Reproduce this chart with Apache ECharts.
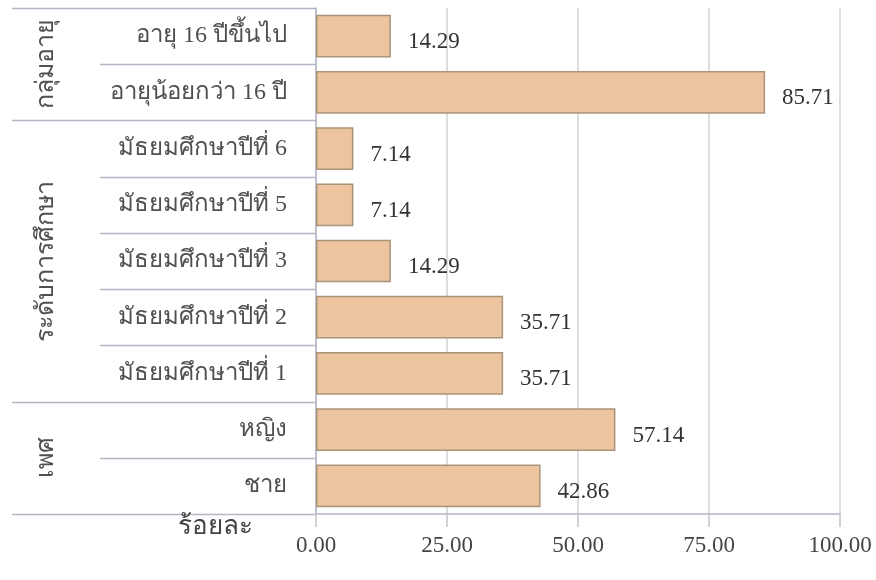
<!DOCTYPE html>
<html>
<head>
<meta charset="utf-8">
<script src="https://cdn.jsdelivr.net/npm/echarts@6/dist/echarts.min.js"></script>
<style>
  html, body { margin: 0; padding: 0; background: #fff; }
  #container { width: 876px; height: 580px; }
</style>
</head>
<body>
<div id="container"></div>
<script>
// rows, top to bottom
var categories = [
    'อายุ 16 ปีขึ้นไป',
    'อายุน้อยกว่า 16 ปี',
    'มัธยมศึกษาปีที่ 6',
    'มัธยมศึกษาปีที่ 5',
    'มัธยมศึกษาปีที่ 3',
    'มัธยมศึกษาปีที่ 2',
    'มัธยมศึกษาปีที่ 1',
    'หญิง',
    'ชาย'
];
var values = [14.29, 85.71, 7.14, 7.14, 14.29, 35.71, 35.71, 57.14, 42.86];
var groupNames = ['กลุ่มอายุ', 'ระดับการศึกษา', 'เพศ'];
var groupSizes = [2, 5, 2];
var unitName = 'ร้อยละ';

var FONT = '"Liberation Serif", "DejaVu Serif", serif';

var dom = document.getElementById('container');
var myChart = echarts.init(dom);

var option = {
    animation: false,
    backgroundColor: '#fff',
    grid: { left: 316, right: 36, top: 8, bottom: 66 },
    xAxis: {
        type: 'value',
        min: 0,
        max: 100,
        interval: 25,
        axisLine: { show: true, lineStyle: { color: '#b4b6c4', width: 1.5 } },
        axisTick: { show: true, length: 13, lineStyle: { color: '#c4c4c8', width: 1.5 } },
        splitLine: { show: true, lineStyle: { color: '#d2d2d6', width: 1.5 } },
        axisLabel: {
            margin: 20,
            color: '#444',
            fontFamily: FONT,
            fontSize: 23,
            formatter: function (v) { return v.toFixed(2); }
        }
    },
    yAxis: {
        type: 'category',
        inverse: true,
        data: categories,
        axisLine: { show: true, lineStyle: { color: '#b4b6c4', width: 1.5 } },
        axisTick: { show: false },
        splitLine: { show: false },
        axisLabel: {
            margin: 29,
            color: '#505050',
            fontFamily: FONT,
            fontSize: 24
        }
    },
    series: [{
        type: 'bar',
        data: values,
        barCategoryGap: '24%',
        itemStyle: {
            color: '#ecc49f',
            borderColor: '#a99479',
            borderWidth: 1.5
        },
        label: {
            show: true,
            position: 'right',
            distance: 17,
            offset: [0, 6],
            color: '#333',
            fontFamily: FONT,
            fontSize: 23,
            formatter: function (p) { return p.value.toFixed(2); }
        }
    }]
};

myChart.setOption(option, true);

// separator lines and group labels placed from the category axis
var c0 = myChart.convertToPixel({ yAxisIndex: 0 }, categories[0]);
var c1 = myChart.convertToPixel({ yAxisIndex: 0 }, categories[1]);
var band = c1 - c0;
var axisX = myChart.convertToPixel({ xAxisIndex: 0 }, 0);
function edge(i) { return c0 - band / 2 + i * band; }

var graphics = [];
var groupStart = [];
var acc = 0;
groupSizes.forEach(function (n) { groupStart.push(acc); acc += n; });

for (var i = 0; i <= categories.length; i++) {
    var isGroupEdge = groupStart.indexOf(i) >= 0 || i === categories.length;
    var y = Math.round(edge(i)) + 0.5;
    graphics.push({
        type: 'line',
        shape: { x1: isGroupEdge ? 12 : 100, y1: y, x2: axisX, y2: y },
        style: { stroke: '#b4b6c4', lineWidth: 1.5 },
        silent: true
    });
}

groupNames.forEach(function (name, g) {
    var yMid = (edge(groupStart[g]) + edge(groupStart[g] + groupSizes[g])) / 2;
    graphics.push({
        type: 'text',
        x: 46,
        y: yMid,
        rotation: Math.PI / 2,
        style: {
            text: name,
            fill: '#505050',
            font: '25px ' + FONT,
            textAlign: 'center',
            textVerticalAlign: 'middle'
        },
        silent: true
    });
});

graphics.push({
    type: 'text',
    x: 215,
    y: 527,
    style: {
        text: unitName,
        fill: '#444',
        font: '26px ' + FONT,
        textAlign: 'center',
        textVerticalAlign: 'middle'
    },
    silent: true
});

myChart.setOption({ graphic: graphics });
</script>
</body>
</html>
